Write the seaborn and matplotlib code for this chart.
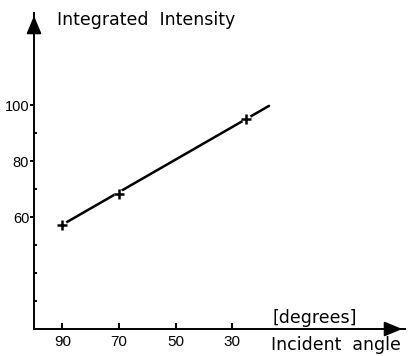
import matplotlib
matplotlib.use("Agg")
import matplotlib.pyplot as plt
import seaborn as sns
import pandas as pd

# data
angle = [90, 70, 25]
intensity = [57.3, 68.2, 95.2]
fit_angle = [90, 17]
fit_intensity = [57.3, 99.8]
y_major = [60, 80, 100]
y_minor = [30, 40, 50, 70, 90]
x_ticks = [90, 70, 50, 30]

sns.set_style("ticks")
plt.rcParams['font.family'] = ['DejaVu Sans']
plt.rcParams['text.color'] = 'black'
plt.rcParams['xtick.color'] = 'black'
plt.rcParams['ytick.color'] = 'black'
plt.rcParams['xtick.labelcolor'] = 'black'
plt.rcParams['ytick.labelcolor'] = 'black'

fig = plt.figure(figsize=(4.08, 3.56), dpi=100)
ax = fig.add_axes([34/408, 27/356, (405-34)/408, (329-13)/356])

pts = pd.DataFrame({"angle": angle, "intensity": intensity})
fit = pd.DataFrame({"angle": fit_angle, "intensity": fit_intensity})

sns.lineplot(data=fit, x="angle", y="intensity", color="black", lw=1.8, ax=ax, zorder=2)
sns.scatterplot(data=pts, x="angle", y="intensity", marker="o", s=45, color="white",
                edgecolor="none", ax=ax, zorder=3)
sns.scatterplot(data=pts, x="angle", y="intensity", marker="+", s=60, color="black",
                linewidth=1.8, ax=ax, zorder=4)

ax.set_xlim(100, -31)
ax.set_ylim(20, 133)
sns.despine(ax=ax)
for s in ("left", "bottom"):
    ax.spines[s].set_linewidth(1.4)
    ax.spines[s].set_color("black")

tick_font = dict(family="Liberation Sans")
ax.set_xticks(x_ticks)
ax.set_xticklabels([str(v) for v in x_ticks], fontsize=11, **tick_font)
ax.tick_params(axis="x", direction="in", length=4, width=1.4, pad=4)
ax.set_yticks(y_major)
ax.set_yticklabels([str(v) for v in y_major], fontsize=10.5, **tick_font)
ax.set_yticks(y_minor, minor=True)
ax.tick_params(axis="y", which="major", direction="out", length=3, width=1.4, pad=0.5)
ax.tick_params(axis="y", which="minor", direction="in", length=2.5, width=1.4)
ax.set_xlabel("")
ax.set_ylabel("")

# axis arrows
ax.annotate("", xy=(0, 1.0), xytext=(0, 0.95), xycoords="axes fraction",
            arrowprops=dict(arrowstyle="-|>,head_length=0.6,head_width=0.25",
                            color="black", lw=1.4, mutation_scale=18),
            annotation_clip=False)
ax.annotate("", xy=(1.0, 0), xytext=(0.95, 0), xycoords="axes fraction",
            arrowprops=dict(arrowstyle="-|>,head_length=0.6,head_width=0.25",
                            color="black", lw=1.4, mutation_scale=18),
            annotation_clip=False)

fig.text(57/408, 1 - 20/356, "Integrated  Intensity", fontsize=12.5, va="center", ha="left")
fig.text(273/408, 1 - 318/356, "[degrees]", fontsize=12.5, va="center", ha="left")
fig.text(401/408, 1 - 345/356, "Incident  angle", fontsize=12.5, va="center", ha="right")

fig.savefig("out.png", dpi=100)
